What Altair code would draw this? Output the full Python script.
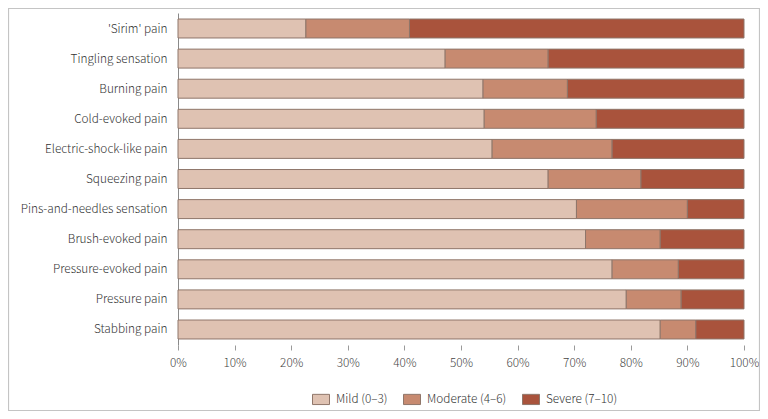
import altair as alt
import pandas as pd

categories = ["'Sirim' pain", "Tingling sensation", "Burning pain", "Cold-evoked pain",
              "Electric-shock-like pain", "Squeezing pain", "Pins-and-needles sensation",
              "Brush-evoked pain", "Pressure-evoked pain", "Pressure pain", "Stabbing pain"]
mild = [22.6, 47.2, 53.9, 54.1, 55.5, 65.4, 70.4, 72.0, 76.7, 79.2, 85.2]
moderate = [18.3, 18.2, 14.9, 19.8, 21.2, 16.4, 19.6, 13.2, 11.7, 9.7, 6.3]
severe = [round(100 - a - b, 1) for a, b in zip(mild, moderate)]
levels = ["Mild (0–3)", "Moderate (4–6)", "Severe (7–10)"]
colors = ["#dfc2b2", "#c78a70", "#a9533c"]
ticks = [0, 10, 20, 30, 40, 50, 60, 70, 80, 90, 100]

rows = []
for i, c in enumerate(categories):
    for j, (lvl, vals) in enumerate(zip(levels, [mild, moderate, severe])):
        rows.append({"category": c, "level": lvl, "order": j, "value": vals[i]})
df = pd.DataFrame(rows)

FONT = "Noto Sans CJK KR"
FS = 11.8

bars = alt.Chart(df).mark_bar(stroke="#8f766a", strokeWidth=1).encode(
    y=alt.Y("category:N", sort=categories, title=None,
            scale=alt.Scale(paddingInner=0.37, paddingOuter=0.2),
            axis=alt.Axis(ticks=False, domain=True, domainColor="#8a8a8a", labelPadding=11,
                          labelFont=FONT, labelFontSize=FS, labelFontWeight=300,
                          labelColor="#333333", labelLimit=300)),
    x=alt.X("value:Q", stack="zero", title=None,
            scale=alt.Scale(domain=[0, 100], nice=False),
            axis=alt.Axis(values=ticks, labelExpr="datum.value + '%'", grid=False,
                          domain=False, tickSize=5, tickColor="#9a9a9a", labelPadding=7,
                          labelFlush=False,
                          labelFont=FONT, labelFontSize=FS, labelFontWeight=300,
                          labelColor="#444444")),
    color=alt.Color("level:N", sort=levels,
                    scale=alt.Scale(domain=levels, range=colors),
                    legend=alt.Legend(title=None, orient="none", direction="horizontal",
                                      legendX=134, legendY=377,
                                      symbolType="M-1,-0.6L1,-0.6L1,0.6L-1,0.6Z",
                                      symbolSize=289, symbolStrokeColor="#8f766a",
                                      symbolStrokeWidth=1, symbolOpacity=1,
                                      labelFont=FONT, labelFontSize=FS, labelFontWeight=300,
                                      labelColor="#333333", labelOffset=6,
                                      columnPadding=13)),
    order=alt.Order("order:Q"),
)

frame = alt.Chart(alt.Data(values=[{}])).mark_rect(
    fill=None, stroke="#c4c4c4", strokeWidth=1.2
).encode(
    x=alt.value(-169.5), x2=alt.value(581.5),
    y=alt.value(-4.5), y2=alt.value(397.5),
)

chart = alt.layer(bars, frame).properties(
    width=566, height=332,
    autosize=alt.AutoSizeParams(type="none"),
    padding={"left": 170, "top": 5, "right": 16, "bottom": 66},
).configure_view(stroke=None)

chart.save("out.html", embed_options={"renderer": "svg", "actions": False})
